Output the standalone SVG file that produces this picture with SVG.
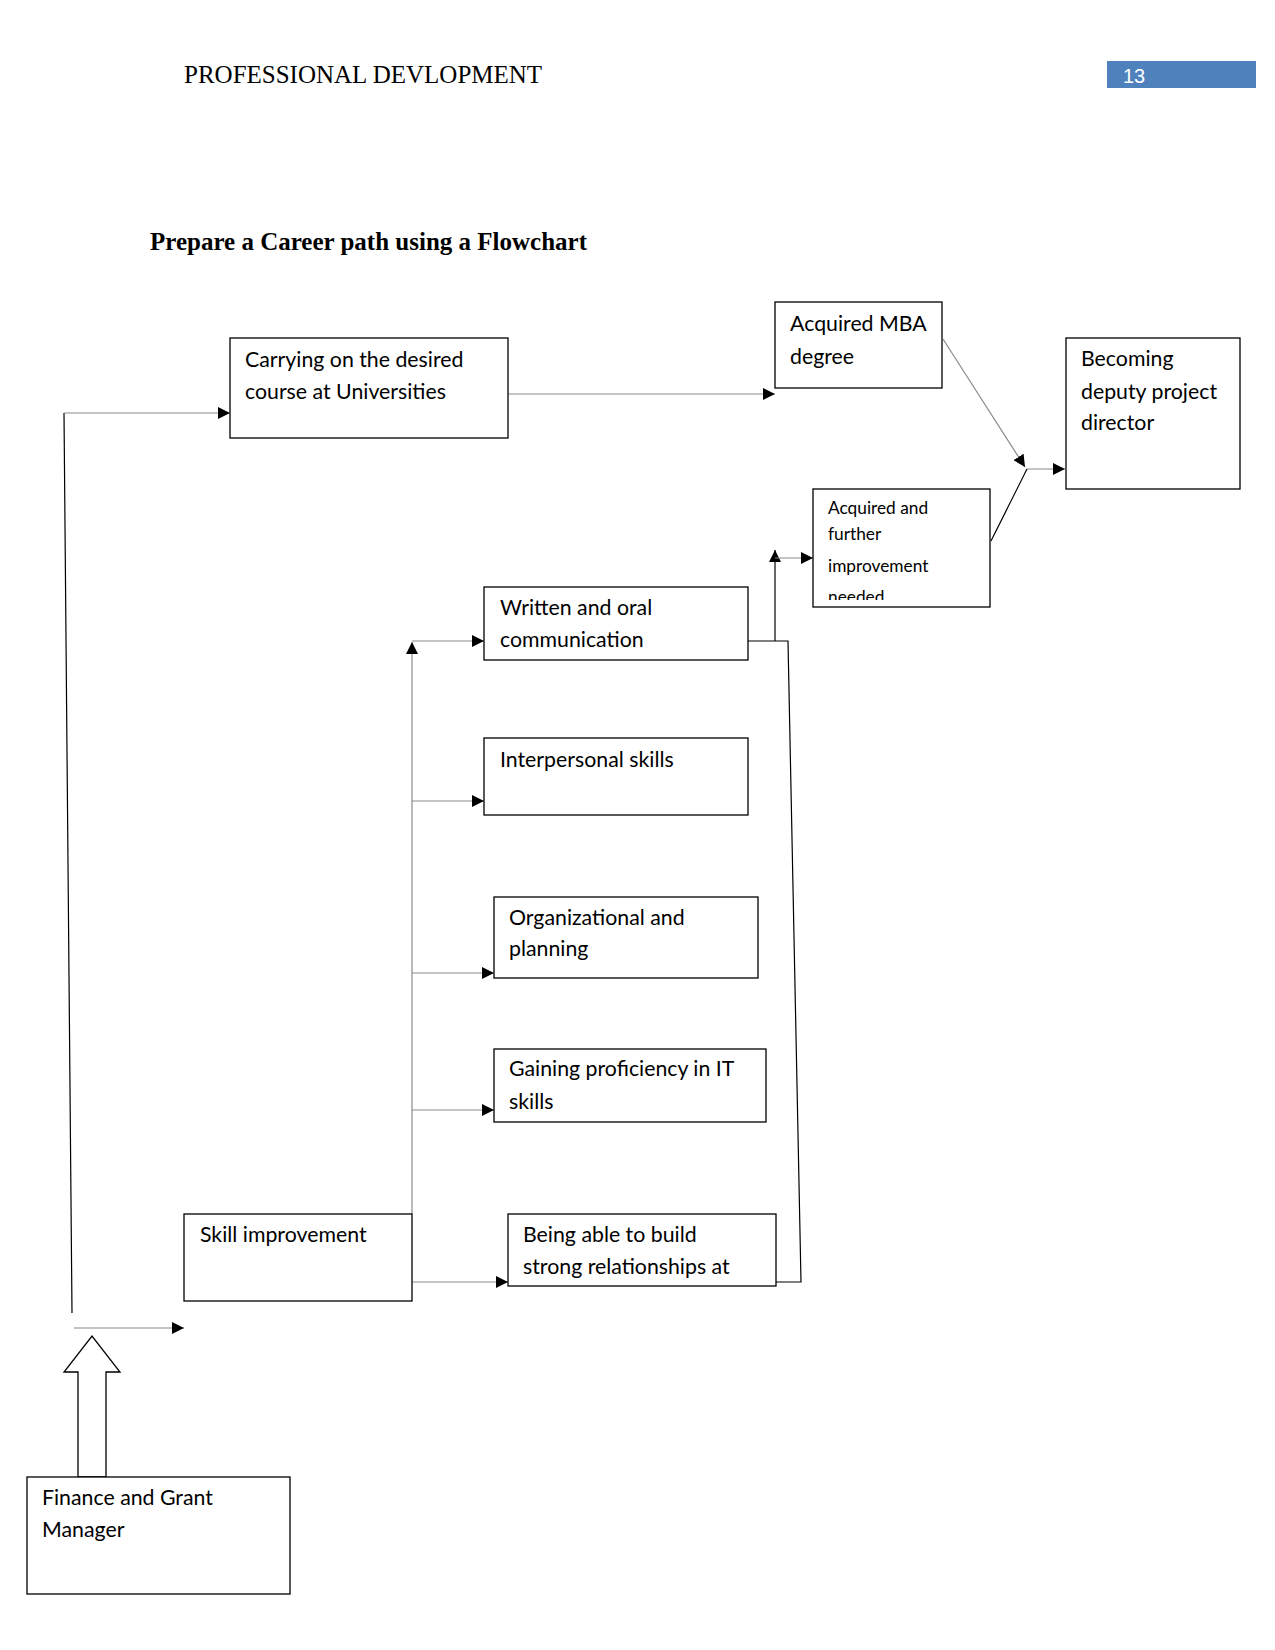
<svg xmlns="http://www.w3.org/2000/svg" width="1275" height="1650" viewBox="0 0 1275 1650">
<style>
.box{fill:#fff;stroke:#000;stroke-width:1.3}
.t{font-family:Lato,"Liberation Sans",sans-serif;font-size:21.3px;fill:#000}
.ts{font-family:Lato,"Liberation Sans",sans-serif;font-size:17.3px;fill:#000}
.g{stroke:#8a8a8a;stroke-width:1.2;fill:none}
.k{stroke:#000;stroke-width:1.2;fill:none}
</style>
<defs>
<marker id="ah" markerUnits="userSpaceOnUse" markerWidth="12" markerHeight="12" refX="12" refY="6" orient="auto">
<path d="M0,0 L12,6 L0,12 z" fill="#000"/>
</marker>
<clipPath id="clipAcq"><rect x="813" y="489" width="177" height="111"/></clipPath>
</defs>
<rect width="1275" height="1650" fill="#fff"/>
<text x="184" y="83" font-family="Liberation Serif,serif" font-size="25">PROFESSIONAL DEVLOPMENT</text>
<rect x="1107" y="61" width="149" height="27" fill="#4f81bd"/>
<text x="1123" y="83" font-family="Liberation Sans,sans-serif" font-size="20" fill="#fff">13</text>
<text x="150" y="250" font-family="Liberation Serif,serif" font-size="25" font-weight="bold">Prepare a Career path using a Flowchart</text>

<g id="connectors">
<polyline class="k" points="72,1313 64,413"/>
<line class="g" x1="64" y1="413" x2="230" y2="413" marker-end="url(#ah)"/>
<line class="g" x1="74" y1="1328" x2="184" y2="1328" marker-end="url(#ah)"/>
<line class="g" x1="508" y1="394" x2="775" y2="394" marker-end="url(#ah)"/>
<line class="g" x1="943" y1="339" x2="1025" y2="467" marker-end="url(#ah)"/>
<line class="k" x1="991" y1="541" x2="1027" y2="469"/>
<line class="g" x1="1027" y1="469" x2="1065" y2="469" marker-end="url(#ah)"/>
<line class="g" x1="412" y1="1214" x2="412" y2="642" marker-end="url(#ah)"/>
<line class="g" x1="412" y1="641" x2="484" y2="641" marker-end="url(#ah)"/>
<line class="g" x1="412" y1="801" x2="484" y2="801" marker-end="url(#ah)"/>
<line class="g" x1="412" y1="973" x2="494" y2="973" marker-end="url(#ah)"/>
<line class="g" x1="412" y1="1110" x2="494" y2="1110" marker-end="url(#ah)"/>
<line class="g" x1="412" y1="1282" x2="508" y2="1282" marker-end="url(#ah)"/>
<polyline class="k" points="776,1282 801,1282 788,641 748,641"/>
<line class="k" x1="775" y1="641" x2="775" y2="550" marker-end="url(#ah)"/>
<line class="g" x1="775" y1="558" x2="813" y2="558" marker-end="url(#ah)"/>
<polygon class="box" points="78,1477 78,1372 64,1372 92,1336 120,1372 106,1372 106,1477"/>
</g>

<g id="n-course">
<rect class="box" x="230" y="338" width="278" height="100"/>
<text class="t" x="245" y="367">Carrying on the desired</text>
<text class="t" x="245" y="399">course at Universities</text>
</g>
<g id="n-mba">
<rect class="box" x="775" y="302" width="167" height="86"/>
<text class="t" x="790" y="331">Acquired MBA</text>
<text class="t" x="790" y="364">degree</text>
</g>
<g id="n-deputy">
<rect class="box" x="1066" y="338" width="174" height="151"/>
<text class="t" x="1081" y="366">Becoming</text>
<text class="t" x="1081" y="399">deputy project</text>
<text class="t" x="1081" y="430">director</text>
</g>
<g id="n-acquired">
<rect class="box" x="813" y="489" width="177" height="118"/>
<g clip-path="url(#clipAcq)">
<text class="ts" x="828" y="514">Acquired and</text>
<text class="ts" x="828" y="540">further</text>
<text class="ts" x="828" y="572">improvement</text>
<text class="ts" x="828" y="603">needed</text>
</g>
</g>
<g id="n-written">
<rect class="box" x="484" y="587" width="264" height="73"/>
<text class="t" x="500" y="615">Written and oral</text>
<text class="t" x="500" y="647">communication</text>
</g>
<g id="n-interpersonal">
<rect class="box" x="484" y="738" width="264" height="77"/>
<text class="t" x="500" y="767">Interpersonal skills</text>
</g>
<g id="n-org">
<rect class="box" x="494" y="897" width="264" height="81"/>
<text class="t" x="509" y="925">Organizational and</text>
<text class="t" x="509" y="956">planning</text>
</g>
<g id="n-it">
<rect class="box" x="494" y="1049" width="272" height="73"/>
<text class="t" x="509" y="1076">Gaining proficiency in IT</text>
<text class="t" x="509" y="1109">skills</text>
</g>
<g id="n-relationships">
<rect class="box" x="508" y="1214" width="268" height="72"/>
<text class="t" x="523" y="1242">Being able to build</text>
<text class="t" x="523" y="1274">strong relationships at</text>
</g>
<g id="n-skill">
<rect class="box" x="184" y="1214" width="228" height="87"/>
<text class="t" x="200" y="1242">Skill improvement</text>
</g>
<g id="n-finance">
<rect class="box" x="27" y="1477" width="263" height="117"/>
<text class="t" x="42" y="1505">Finance and Grant</text>
<text class="t" x="42" y="1537">Manager</text>
</g>
</svg>
